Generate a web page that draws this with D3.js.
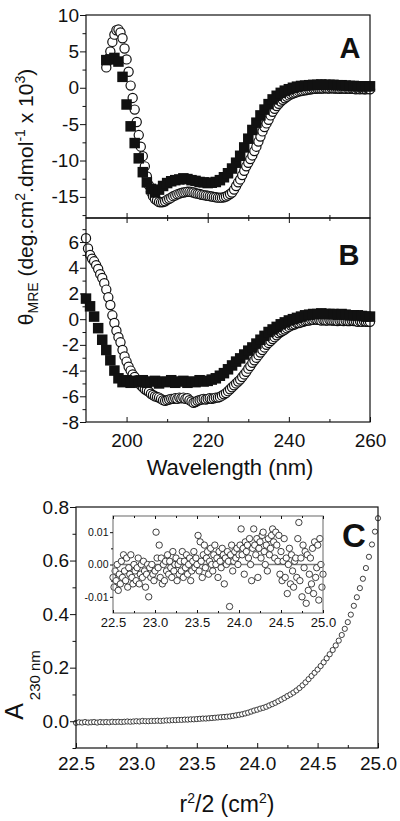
<!DOCTYPE html>
<html><head><meta charset="utf-8">
<script src="https://cdn.jsdelivr.net/npm/d3@7"></script>
<style>
html,body{margin:0;padding:0;background:#fff;}
svg{display:block;}
</style></head><body>
<svg id="c" width="400" height="821"></svg>
<script>
// ---------------- DATA ----------------
// Panel A (wavelength grids: start and step in nm)
const wlA_circ_start = 195, circStep = 0.5;
const wlA_sq_start = 195, sqStep = 1;
const circA = [2.8,3.9,5.0,6.3,7.3,7.9,8.0,7.6,6.8,5.4,
3.9,2.2,0.3,-1.4,-3.0,-4.7,-6.5,-8.1,-9.4,-10.8,
-12.2,-13.4,-14.3,-14.9,-15.3,-15.5,-15.7,-15.75,-15.7,-15.6,
-15.4,-15.25,-15.1,-14.9,-14.8,-14.65,-14.55,-14.45,-14.4,-14.35,
-14.3,-14.3,-14.35,-14.4,-14.5,-14.55,-14.6,-14.7,-14.75,-14.8,
-14.85,-14.9,-14.95,-15.0,-15.05,-15.1,-15.1,-15.1,-15.05,-14.95,
-14.8,-14.6,-14.4,-14.0,-13.5,-13.0,-12.6,-12.0,-11.4,-10.8,
-10.3,-9.8,-9.3,-8.7,-8.1,-7.4,-6.7,-6.0,-5.4,-4.9,
-4.4,-3.8,-3.3,-2.9,-2.5,-2.2,-1.9,-1.65,-1.45,-1.25,
-1.05,-0.9,-0.8,-0.7,-0.6,-0.5,-0.45,-0.4,-0.35,-0.3,
-0.25,-0.2,-0.15,-0.15,-0.1,-0.1,-0.1,-0.1,-0.05,-0.1,
-0.1,-0.05,-0.1,-0.1,-0.1,-0.15,-0.1,-0.1,-0.15,-0.1,
-0.15,-0.1,-0.15,-0.2,-0.15,-0.2,-0.15,-0.2,-0.2,-0.15,
-0.2];
const sqA = [3.8,3.9,4.1,3.6,1.5,-2.3,-5.3,-7.6,-9.7,-11.6,
-13.0,-13.9,-14.4,-14.0,-13.5,-13.1,-12.85,-12.7,-12.6,-12.45,
-12.55,-12.7,-12.8,-12.95,-13.0,-13.1,-13.05,-12.95,-12.7,-12.3,
-11.75,-11.1,-10.3,-9.35,-8.2,-7.0,-5.8,-4.8,-3.8,-3.0,
-2.25,-1.6,-1.1,-0.7,-0.4,-0.2,0.0,0.15,0.25,0.3,
0.35,0.4,0.4,0.45,0.4,0.4,0.4,0.35,0.35,0.3,
0.25,0.25,0.2,0.2,0.2,0.2];
// Panel B
const wlB_start = 190;
const circB = [6.3,5.5,5.0,4.7,4.5,4.2,3.9,3.5,3.2,2.8,
2.3,1.7,1.1,0.3,-0.3,-0.9,-1.4,-1.8,-2.4,-2.9,
-3.3,-3.7,-4.0,-4.3,-4.5,-4.75,-4.95,-5.15,-5.3,-5.45,
-5.55,-5.65,-5.8,-5.9,-6.0,-6.05,-6.1,-6.2,-6.3,-6.35,
-6.3,-6.25,-6.2,-6.2,-6.15,-6.2,-6.1,-6.15,-6.1,-6.2,
-6.15,-6.3,-6.4,-6.5,-6.45,-6.35,-6.3,-6.25,-6.2,-6.25,
-6.2,-6.15,-6.2,-6.15,-6.1,-6.1,-6.05,-5.95,-5.85,-5.75,
-5.6,-5.45,-5.3,-5.15,-5.0,-4.85,-4.7,-4.5,-4.3,-4.1,
-3.85,-3.65,-3.4,-3.2,-3.0,-2.8,-2.6,-2.4,-2.2,-2.0,
-1.85,-1.7,-1.55,-1.4,-1.25,-1.1,-1.0,-0.9,-0.8,-0.7,
-0.6,-0.5,-0.45,-0.4,-0.3,-0.3,-0.25,-0.2,-0.15,-0.1,
-0.1,-0.05,-0.05,0.0,-0.05,-0.05,-0.1,-0.05,-0.1,-0.1,
-0.05,-0.1,-0.1,-0.1,-0.15,-0.1,-0.1,-0.15,-0.1,-0.15,
-0.15,-0.1,-0.15,-0.15,-0.2,-0.15,-0.2,-0.15,-0.2,-0.2,
-0.2];
const sqB = [1.6,1.0,0.2,-0.7,-1.6,-2.4,-3.2,-4.0,-4.6,-4.9,
-4.75,-4.95,-4.8,-4.9,-4.75,-4.95,-4.85,-4.8,-5.0,-4.85,
-4.9,-4.75,-4.95,-4.85,-4.8,-4.95,-4.85,-4.9,-4.75,-4.85,
-4.8,-4.7,-4.6,-4.4,-4.2,-3.9,-3.6,-3.3,-3.05,-2.75,
-2.45,-2.2,-1.9,-1.6,-1.3,-1.0,-0.8,-0.6,-0.4,-0.25,
-0.1,0.0,0.1,0.2,0.3,0.35,0.4,0.4,0.45,0.4,
0.4,0.4,0.35,0.4,0.35,0.3,0.3,0.3,0.25,0.2,
0.2];
// Panel C: r^2/2 grid (start, step) and absorbance
const rC_start = 22.5, rC_step = 0.025;
const absC = [-0.006,-0.004,-0.005,-0.003,-0.005,-0.004,-0.003,-0.005,-0.003,-0.004,
-0.003,-0.004,-0.002,-0.003,-0.002,-0.003,-0.002,-0.001,-0.002,-0.001,
0.000,-0.001,0.001,0.000,0.000,0.001,0.001,0.002,0.001,0.002,
0.003,0.003,0.004,0.004,0.005,0.005,0.006,0.006,0.007,0.007,
0.008,0.009,0.010,0.010,0.011,0.012,0.013,0.014,0.015,0.016,
0.017,0.018,0.020,0.022,0.024,0.026,0.029,0.032,0.036,0.040,
0.043,0.047,0.050,0.054,0.059,0.064,0.069,0.075,0.081,0.087,
0.094,0.100,0.107,0.115,0.124,0.134,0.145,0.157,0.169,0.181,
0.193,0.206,0.220,0.235,0.250,0.266,0.283,0.301,0.322,0.345,
0.370,0.398,0.431,0.463,0.497,0.532,0.572,0.614,0.660,0.708,
0.758];
// Inset residuals, in units of 0.001
const rI_start = 22.5, rI_step = 0.0125;
const residMilli = [-4,-7,-2,-5,0,-8,-3,-6,1,-4,3,-2,-5,2,-7,-1,-3,3,-4,-6,0,-2,-5,-1,2,-6,-3,0,-4,1,-2,-7,-3,0,-10,-1,-4,0,-3,-5,-2,
10,2,-1,6,-4,2,-6,0,-5,1,-2,3,-3,1,-1,-4,4,-2,0,2,-5,0,-3,1,-2,4,-4,1,-1,3,-3,0,2,-5,-2,1,4,-1,2,0,
9,-2,7,1,-4,3,6,-1,2,4,-3,1,5,0,-2,3,6,0,2,-4,4,1,-1,5,3,-6,2,0,4,1,-13,3,6,-2,1,4,2,5,0,3,
6,11,3,5,-3,7,4,6,2,8,0,-5,5,11,6,3,8,-4,5,7,2,9,10,4,0,6,-2,8,3,5,9,11,7,2,10,6,1,9,-3,4,
-5,1,8,-4,2,-9,0,5,-6,3,-2,-7,1,2,-4,8,13,-5,2,-10,6,-1,4,-12,3,-8,-3,2,-6,5,-9,7,-4,-1,6,-11,8,0,-7,-3];

// Ticks & labels
const xTicksAB = [200,220,240,260], xMinorAB = [210,230,250];
const yTicksA = [-15,-10,-5,0,5,10], yMinorA = [-17.5,-12.5,-7.5,-2.5,2.5,7.5];
const yTicksB = [-8,-6,-4,-2,0,2,4,6], yMinorB = [-7,-5,-3,-1,1,3,5,7];
const xTicksC = [22.5,23.0,23.5,24.0,24.5,25.0], xLabelsC = ["22.5","23.0","23.5","24.0","24.5","25.0"];
const xMinorC = [22.75,23.25,23.75,24.25,24.75];
const yTicksC = [0,0.2,0.4,0.6,0.8], yLabelsC = ["0.0","0.2","0.4","0.6","0.8"], yMinorC = [-0.1,0.1,0.3,0.5,0.7];
const yTicksI = [-10,0,10], yLabelsI = ["-0.01","0.00","0.01"], yMinorI = [-5,5];

// ---------------- DRAW ----------------
const FONT = '"Liberation Sans", Arial, Helvetica, sans-serif';
const INK = "#111";
const svg = d3.select("#c");
svg.append("rect").attr("width",400).attr("height",821).attr("fill","#fff");

function styleAxis(g, fs){
  g.attr("font-family", FONT).attr("font-size", fs);
  g.select(".domain").remove();
  g.selectAll(".tick line").attr("stroke", INK).attr("stroke-width", 1);
  g.selectAll(".tick text").attr("fill", INK);
  return g;
}
function addAxis(axis, tx, ty, fs){
  const g = svg.append("g").attr("transform", `translate(${tx},${ty})`).call(axis);
  return styleAxis(g, fs || 10);
}
function frame(x0,y0,x1,y1,col,w){
  svg.append("rect").attr("x",x0).attr("y",y0).attr("width",x1-x0).attr("height",y1-y0)
    .attr("fill","none").attr("stroke",col).attr("stroke-width",w);
}

// scales
const xAB = d3.scaleLinear().domain([190,260]).range([86,370]);
const yA = d3.scaleLinear().domain([-17.9,10]).range([218,15]);
const yB = d3.scaleLinear().domain([-8,7.87]).range([422,218]);

function series(start, step, vals){ return vals.map((v,i)=>({w:start+i*step, v})); }

const SQ = 10.5;
function drawCD(yS, circ, sq){
  svg.append("g").selectAll("circle").data(circ).join("circle")
    .attr("cx", d=>xAB(d.w)).attr("cy", d=>yS(d.v)).attr("r", 4.6)
    .attr("fill","#fff").attr("stroke",INK).attr("stroke-width",1.2);
  svg.append("g").selectAll("rect").data(sq).join("rect")
    .attr("x", d=>xAB(d.w)-SQ/2).attr("y", d=>yS(d.v)-SQ/2).attr("width",SQ).attr("height",SQ)
    .attr("fill",INK);
}
drawCD(yA, series(wlA_circ_start, circStep, circA), series(wlA_sq_start, sqStep, sqA));
drawCD(yB, series(wlB_start, circStep, circB), series(wlB_start, sqStep, sqB));

// frames A, B
frame(86,15,370,218,INK,1.2);
frame(86,218,370,422,INK,1.2);

// axes A
addAxis(d3.axisLeft(yA).tickValues(yTicksA).tickSize(6).tickPadding(1).tickFormat(d=>String(d)), 86, 0, 19);
addAxis(d3.axisLeft(yA).tickValues(yMinorA).tickSize(3.5).tickFormat(""), 86, 0);
addAxis(d3.axisBottom(xAB).tickValues(xTicksAB.slice(0,3)).tickSize(-5).tickFormat(""), 0, 218);
addAxis(d3.axisBottom(xAB).tickValues(xMinorAB).tickSize(-3).tickFormat(""), 0, 218);
// axes B
addAxis(d3.axisLeft(yB).tickValues(yTicksB).tickSize(6).tickPadding(1).tickFormat(d=>String(d)), 86, 0, 19);
addAxis(d3.axisLeft(yB).tickValues(yMinorB).tickSize(3.5).tickFormat(""), 86, 0);
addAxis(d3.axisTop(xAB).tickValues(xTicksAB.slice(0,3)).tickSize(-5).tickFormat(""), 0, 218);
addAxis(d3.axisTop(xAB).tickValues(xMinorAB).tickSize(-3).tickFormat(""), 0, 218);
addAxis(d3.axisBottom(xAB).tickValues(xTicksAB).tickSize(-5).tickPadding(11.5).tickFormat(d=>String(d)), 0, 422, 19);
addAxis(d3.axisBottom(xAB).tickValues(xMinorAB).tickSize(-3).tickFormat(""), 0, 422);

// panel letters
function letter(t,x,y,fs){
  svg.append("text").attr("x",x).attr("y",y).attr("text-anchor","middle")
    .attr("font-family",FONT).attr("font-weight","bold").attr("font-size",fs).attr("fill",INK).text(t);
}
letter("A",350,58,29);
letter("B",349,265,29);
letter("C",354,547,33);

// x title A/B
svg.append("text").attr("x",230).attr("y",475).attr("text-anchor","middle")
  .attr("font-family",FONT).attr("font-size",22).attr("fill",INK).text("Wavelength (nm)");

// y title A/B
{
  const t = svg.append("text").attr("transform","translate(33,197) rotate(-90)")
    .attr("text-anchor","middle").attr("font-family",FONT).attr("font-size",21).attr("fill",INK);
  t.append("tspan").text("θ");
  t.append("tspan").attr("font-size",14).attr("dy",5).text("MRE");
  t.append("tspan").attr("dy",-5).text(" (deg.cm");
  t.append("tspan").attr("font-size",14).attr("dy",-8).text("2");
  t.append("tspan").attr("dy",8).text(".dmol");
  t.append("tspan").attr("font-size",14).attr("dy",-8).text("-1");
  t.append("tspan").attr("dy",8).text(" x 10");
  t.append("tspan").attr("font-size",14).attr("dy",-8).text("3");
  t.append("tspan").attr("dy",8).text(")");
}

// ---------------- PANEL C ----------------
const xC = d3.scaleLinear().domain([22.5,25]).range([76,378]);
const yC = d3.scaleLinear().domain([-0.1,0.8]).range([748,507]);
const cData = absC.map((v,i)=>({r:rC_start+i*rC_step, v}));
svg.append("g").selectAll("circle").data(cData).join("circle")
  .attr("cx",d=>xC(d.r)).attr("cy",d=>yC(d.v)).attr("r",2.6)
  .attr("fill","#fff").attr("stroke",INK).attr("stroke-width",0.8);
frame(76,507,378,748,INK,1.2);
addAxis(d3.axisLeft(yC).tickValues(yTicksC).tickSize(6).tickPadding(1).tickFormat((d,i)=>yLabelsC[i]), 76, 0, 19);
addAxis(d3.axisLeft(yC).tickValues(yMinorC).tickSize(3.5).tickFormat(""), 76, 0);
addAxis(d3.axisBottom(xC).tickValues(xTicksC).tickSize(-5).tickPadding(9).tickFormat((d,i)=>xLabelsC[i]), 0, 748, 19);
addAxis(d3.axisBottom(xC).tickValues(xMinorC).tickSize(-3).tickFormat(""), 0, 748);

// y title C
{
  const t = svg.append("text").attr("transform","translate(23,685) rotate(-90)")
    .attr("text-anchor","middle").attr("font-family",FONT).attr("font-size",25).attr("fill",INK);
  t.append("tspan").text("A");
  t.append("tspan").attr("font-size",15).attr("dy",17).attr("dx",3).text("230 nm");
}
// x title C
{
  const t = svg.append("text").attr("x",227).attr("y",812).attr("text-anchor","middle")
    .attr("font-family",FONT).attr("font-size",23).attr("fill",INK);
  t.append("tspan").text("r");
  t.append("tspan").attr("font-size",14).attr("dy",-9).text("2");
  t.append("tspan").attr("dy",9).text("/2 (cm");
  t.append("tspan").attr("font-size",14).attr("dy",-9).text("2");
  t.append("tspan").attr("dy",9).text(")");
}

// ---------------- INSET ----------------
const xI = d3.scaleLinear().domain([22.5,25]).range([113,323]);
const yI = d3.scaleLinear().domain([-15,15]).range([613,516]);
const GREY = "#808080";
svg.append("line").attr("x1",113).attr("x2",323).attr("y1",yI(0)).attr("y2",yI(0))
  .attr("stroke",GREY).attr("stroke-width",1.4);
const iData = residMilli.map((v,i)=>({r:rI_start+i*rI_step, v}));
svg.append("g").selectAll("circle").data(iData).join("circle")
  .attr("cx",d=>xI(d.r)).attr("cy",d=>yI(d.v)).attr("r",3.2)
  .attr("fill","#fff").attr("stroke",INK).attr("stroke-width",0.8);
frame(113,516,323,613,GREY,1.2);
addAxis(d3.axisLeft(yI).tickValues(yTicksI).tickSize(3).tickPadding(1.5).tickFormat((d,i)=>yLabelsI[i]), 113, 0, 10.5);
addAxis(d3.axisLeft(yI).tickValues(yMinorI).tickSize(2).tickFormat(""), 113, 0);
addAxis(d3.axisBottom(xI).tickValues(xTicksC).tickSize(-3).tickPadding(5).tickFormat((d,i)=>xLabelsC[i]), 0, 613, 13);
addAxis(d3.axisBottom(xI).tickValues(xMinorC).tickSize(-2).tickFormat(""), 0, 613);
addAxis(d3.axisTop(xI).tickValues(xTicksC).tickSize(-3).tickFormat(""), 0, 516);
addAxis(d3.axisTop(xI).tickValues(xMinorC).tickSize(-2).tickFormat(""), 0, 516);
</script>
</body></html>
